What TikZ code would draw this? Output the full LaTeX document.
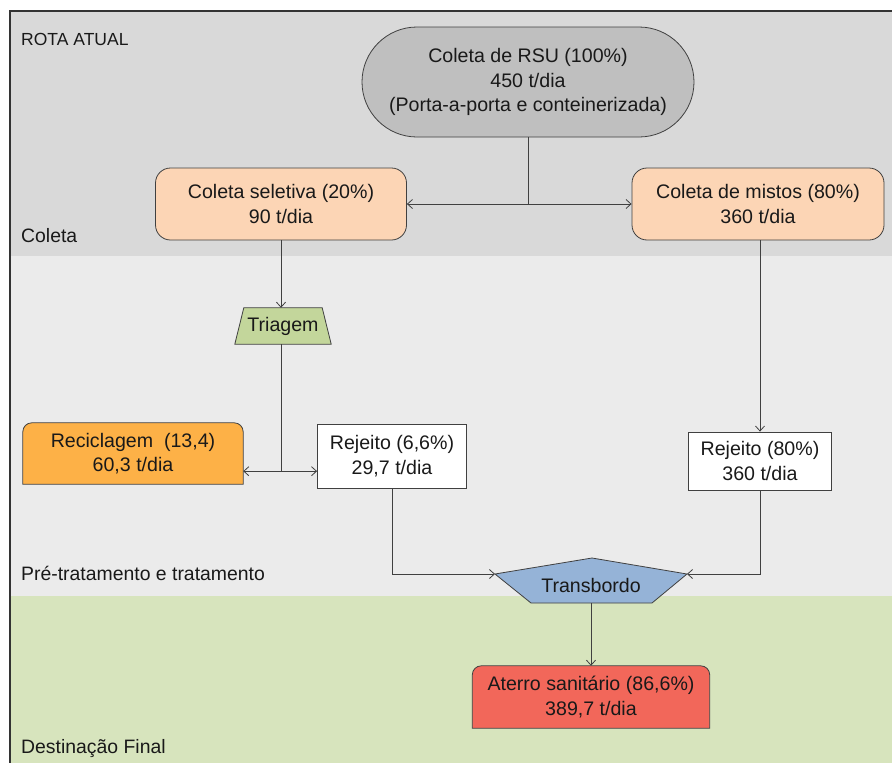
\documentclass[tikz,border=0pt]{standalone}
\usepackage{fontspec}
\setmainfont{Liberation Sans}
\usetikzlibrary{arrows.meta,shapes.misc,backgrounds,calc}
\definecolor{bandA}{HTML}{D9D9D9}
\definecolor{bandB}{HTML}{EBEBEB}
\definecolor{bandC}{HTML}{D7E4BD}
\definecolor{rsuC}{HTML}{BFBFBF}
\definecolor{peach}{HTML}{FCD5B5}
\definecolor{triC}{HTML}{C3D69B}
\definecolor{recC}{HTML}{FDB147}
\definecolor{trbC}{HTML}{95B3D7}
\definecolor{atC}{HTML}{F2675A}
\definecolor{edge}{HTML}{404040}
\tikzset{
  x=1pt, y=1pt,
  boxtext/.style={font=\fontsize{19.6}{24.5}\selectfont, align=center, text=black!90, inner sep=0pt},
  lanelabel/.style={font=\fontsize{19.4}{23}\selectfont, anchor=west, inner sep=0pt, text=black!90},
  outline/.style={draw=edge, line width=0.8pt},
  flow/.style={draw=edge, line width=0.8pt, -{Straight Barb[length=5pt,width=9pt]}},
  link/.style={draw=edge, line width=0.8pt},
}
\begin{document}
\begin{tikzpicture}
\useasboundingbox (0,0) rectangle (892,-763);

% lanes
\begin{scope}[on background layer]
  \fill[white] (0,0) rectangle (892,-763);
  \fill[bandA] (10,-11) rectangle (900,-256);
  \fill[bandB] (10,-256) rectangle (900,-596);
  \fill[bandC] (10,-596) rectangle (900,-780);
  \draw[draw=black!80, line width=1.4pt] (10,-780) -- (10,-11) -- (900,-11);
\end{scope}

\node[lanelabel, font=\fontsize{17.5}{21}\selectfont] (lbl1) at (21,-39) {ROTA ATUAL};
\node[lanelabel] (lbl2) at (21,-236) {Coleta};
\node[lanelabel] (lbl3) at (21,-573) {Pré-tratamento e tratamento};
\node[lanelabel] (lbl4) at (21,-749) {Destinação Final};

% collection
\node[boxtext, rounded rectangle, outline, fill=rsuC, minimum width=332, minimum height=110] (rsu) at (528,-82)
  {Coleta de RSU (100\%)\\450 t/dia\\(Porta-a-porta e conteinerizada)};
\node[boxtext, rounded corners=15, outline, fill=peach, minimum width=251, minimum height=72] (sel) at (281,-204)
  {Coleta seletiva (20\%)\\90 t/dia};
\node[boxtext, rounded corners=15, outline, fill=peach, minimum width=252, minimum height=72] (mis) at (758,-204)
  {Coleta de mistos (80\%)\\360 t/dia};

% sorting
\node[boxtext, minimum width=86, minimum height=36] (tri) at (283,-326) {Triagem};
\node[boxtext, minimum width=220, minimum height=61] (rec) at (133,-453.5) {Reciclagem~ (13,4)\\60,3 t/dia};
\node[boxtext, outline, fill=white, minimum width=149, minimum height=64] (rj1) at (392,-456) {Rejeito (6,6\%)\\29,7 t/dia};
\node[boxtext, outline, fill=white, minimum width=143, minimum height=58] (rj2) at (760,-461) {Rejeito (80\%)\\360 t/dia};

% transfer and landfill
\coordinate (tbtop) at (592,-558);
\coordinate (tbl) at (495,-574);
\coordinate (tbr) at (687,-574);
\coordinate (tbbl) at (531,-603);
\coordinate (tbbr) at (652,-603);
\node[boxtext] (trb) at (591,-585) {Transbordo};
\node[boxtext, minimum width=237, minimum height=62] (ats) at (591,-697) {Aterro sanitário (86,6\%)\\389,7 t/dia};

\begin{scope}[on background layer]
  \draw[outline, fill=triC] ([xshift=4]tri.north west) -- ([xshift=-4]tri.north east)
     -- ([xshift=5]tri.south east) -- ([xshift=-5]tri.south west) -- cycle;
  \draw[outline, fill=trbC] (tbl) -- (tbtop) -- (tbr) -- (tbbr) -- (tbbl) -- cycle;
  \draw[outline, fill=recC] (rec.south west) -- ([yshift=-9]rec.north west)
     arc[start angle=180, end angle=90, radius=9] -- ([xshift=-9]rec.north east)
     arc[start angle=90, end angle=0, radius=9] -- (rec.south east) -- cycle;
  \draw[outline, fill=atC] (ats.south west) -- ([yshift=-9]ats.north west)
     arc[start angle=180, end angle=90, radius=9] -- ([xshift=-9]ats.north east)
     arc[start angle=90, end angle=0, radius=9] -- (ats.south east) -- cycle;
\end{scope}

% connectors
\coordinate (split1) at (rsu.south |- sel.east);
\draw[link] (rsu.south) -- (split1);
\draw[flow] (split1) -- (sel.east);
\draw[flow] (split1) -- (mis.west);
\draw[flow] (sel.south) -- (sel.south |- tri.north);
\coordinate (split2) at ($(sel.south |- tri.south)+(0,-127)$);
\draw[link] (sel.south |- tri.south) -- (split2);
\draw[flow] (split2) -- (split2 -| rec.east);
\draw[flow] (split2) -- (split2 -| rj1.west);
\draw[flow] (mis.south -| rj2.north) -- (rj2.north);
\draw[flow] (rj1.south) |- (tbl);
\draw[flow] (rj2.south) |- (tbr);
\draw[flow] (trb |- tbbl) -- (ats.north);
\end{tikzpicture}
\end{document}
